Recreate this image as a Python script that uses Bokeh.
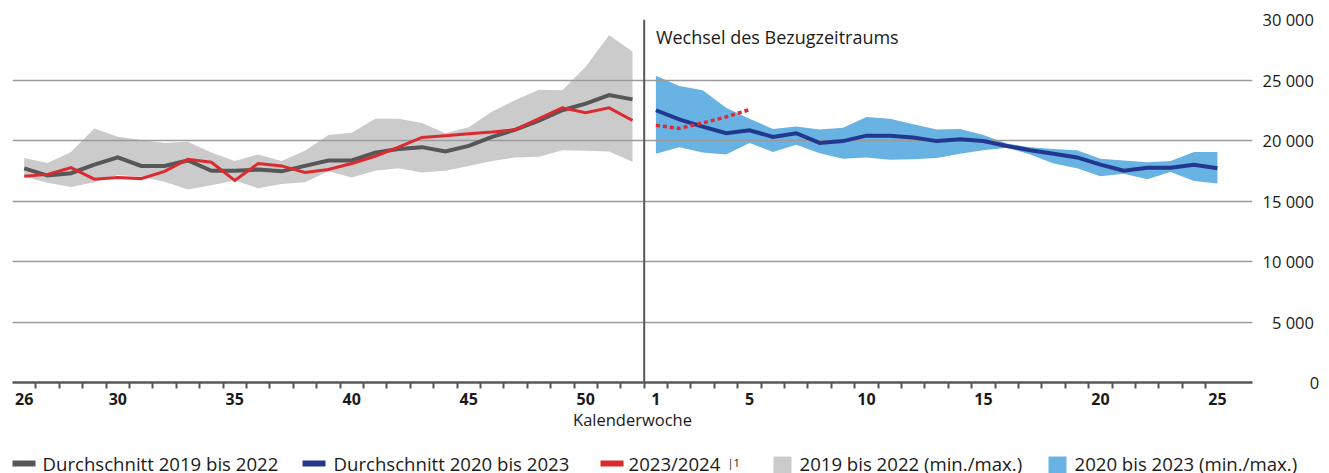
from bokeh.plotting import figure
from bokeh.models import Range1d, FixedTicker, Span, Label, ColumnDataSource
from bokeh.layouts import column
from bokeh.core.properties import value
from bokeh.embed import file_html
from bokeh.resources import INLINE

# ---------------- data ----------------
weeks_prev = list(range(26, 53))   # KW 26..52 (2023)
weeks_next = list(range(1, 26))    # KW 1..25 (2024)

avg_2019_2022 = [17700, 17100, 17300, 18000, 18600, 17900, 17900, 18350, 17500, 17500,
                 17600, 17450, 17900, 18350, 18350, 19000, 19300, 19450, 19100, 19550,
                 20300, 20900, 21650, 22500, 23050, 23750, 23400]
min_2019_2022 = [17000, 16500, 16150, 16550, 17150, 17000, 16600, 15950, 16300, 16700,
                 16050, 16400, 16550, 17450, 16950, 17500, 17700, 17350, 17500, 17900,
                 18300, 18600, 18650, 19200, 19150, 19100, 18250]
max_2019_2022 = [18550, 18150, 19050, 21000, 20300, 20050, 19800, 19900, 19000, 18300,
                 18850, 18300, 19150, 20450, 20650, 21800, 21800, 21450, 20600, 21100,
                 22400, 23350, 24200, 24150, 26100, 28700, 27350]
val_2023 = [17050, 17200, 17750, 16800, 16950, 16850, 17450, 18450, 18200, 16700,
            18100, 17900, 17350, 17600, 18100, 18700, 19450, 20250, 20400, 20550,
            20700, 20900, 21800, 22700, 22300, 22700, 21650]

avg_2020_2023 = [22500, 21750, 21150, 20600, 20850, 20300, 20600, 19800, 19950, 20400,
                 20400, 20250, 19950, 20100, 19950, 19550, 19200, 18900, 18600, 18000,
                 17500, 17750, 17750, 18000, 17700]
min_2020_2023 = [18900, 19450, 19000, 18850, 19800, 19050, 19650, 18950, 18500, 18600,
                 18400, 18450, 18550, 18900, 19200, 19400, 18850, 18100, 17700, 17050,
                 17250, 16800, 17400, 16650, 16450]
max_2020_2023 = [25350, 24500, 24150, 22700, 21800, 20950, 21150, 20900, 21050, 21950,
                 21800, 21350, 20900, 20950, 20450, 19750, 19450, 19300, 19200, 18500,
                 18350, 18200, 18300, 19050, 19050]
val_2024 = [21250, 21000, 21450, 21950, 22550]   # KW 1..5 (dotted)

x_tick_weeks = [26, 30, 35, 40, 45, 50, 1, 5, 10, 15, 20, 25]
y_ticks = [0, 5000, 10000, 15000, 20000, 25000, 30000]
y_tick_labels = ["0", "5 000", "10 000", "15 000", "20 000", "25 000", "30 000"]

legend_labels = ["Durchschnitt 2019 bis 2022", "Durchschnitt 2020 bis 2023", "2023/2024",
                 "2019 bis 2022 (min./max.)", "2020 bis 2023 (min./max.)"]

# ---------------- styles ----------------
FONT = "Open Sans"
C_GREY = "#575757"
C_BLUE = "#22388f"
C_RED = "#dc2b30"
C_GREYBAND = "#cbcbcb"
C_BLUEBAND = "#68b2e4"
C_TEXT = "#1a1a1a"

# positions along the week axis
all_weeks = [("p", w) for w in weeks_prev] + [("n", w) for w in weeks_next]
x_prev = [all_weeks.index(("p", w)) for w in weeks_prev]
x_next = [all_weeks.index(("n", w)) for w in weeks_next]
x_2024 = x_next[:len(val_2024)]
n_slots = len(all_weeks)

def tick_pos(w):
    key = ("p", w) if w >= 26 else ("n", w)
    return all_weeks.index(key)

W = 1329
p = figure(width=W, height=440, output_backend="svg", toolbar_location=None,
           x_range=Range1d(-0.5, n_slots + 0.5), y_range=Range1d(0, 30000),
           y_axis_location="right", min_border_left=12, min_border_right=77,
           min_border_top=19, min_border_bottom=58)
p.frame_align = False
p.outline_line_color = None
p.background_fill_color = "white"
p.xgrid.visible = False
p.ygrid.ticker = FixedTicker(ticks=y_ticks)
p.ygrid.grid_line_color = "#9a9a9a"
p.ygrid.grid_line_width = 1.3

# bands (below grid)
p.varea(x=x_prev, y1=min_2019_2022, y2=max_2019_2022, fill_color=C_GREYBAND, level="image")
p.varea(x=x_next, y1=min_2020_2023, y2=max_2020_2023, fill_color=C_BLUEBAND, level="image")

# lines
p.line(x_prev, avg_2019_2022, line_color=C_GREY, line_width=4, line_join="miter")
p.line(x_prev, val_2023, line_color=C_RED, line_width=3, line_join="miter")
p.line(x_next, avg_2020_2023, line_color=C_BLUE, line_width=4, line_join="miter")
p.line(x_2024, val_2024, line_color=C_RED, line_width=3.5, line_dash="4 3")

# separator
p.add_layout(Span(location=len(weeks_prev) - 0.5, dimension="height",
                  line_color=C_GREY, line_width=2))
p.add_layout(Label(x=x_next[0], y=28550, text="Wechsel des Bezugzeitraums",
                   text_font=FONT, text_font_size="18px", text_color=C_TEXT,
                   text_baseline="alphabetic", text_align="left"))

# x axis
xa = p.xaxis[0]
xa.ticker = FixedTicker(ticks=[tick_pos(w) for w in x_tick_weeks],
                        minor_ticks=[i + 0.5 for i in range(n_slots - 1)])
xa.major_label_overrides = {tick_pos(w): str(w) for w in x_tick_weeks}
xa.major_tick_out = 0
xa.major_tick_in = 0
xa.minor_tick_out = 6
xa.minor_tick_in = 0
xa.minor_tick_line_color = C_GREY
xa.minor_tick_line_width = 2
xa.axis_line_color = C_GREY
xa.axis_line_width = 2.5
xa.major_label_standoff = 4
xa.major_label_text_font = FONT
xa.major_label_text_font_size = "16px"
xa.major_label_text_font_style = "bold"
xa.major_label_text_color = C_TEXT
xa.axis_label = "Kalenderwoche"
xa.axis_label_text_font = FONT
xa.axis_label_text_font_size = "16.5px"
xa.axis_label_text_font_style = "normal"
xa.axis_label_text_color = C_TEXT
xa.axis_label_standoff = 0

# y axis (right, labels right-aligned via figure spaces)
ya = p.yaxis[0]
ya.ticker = FixedTicker(ticks=y_ticks)
maxlen = max(len(s) for s in y_tick_labels)
def pad(s):
    extra = maxlen - len(s)
    return "\u2007" * extra + s
ya.major_label_overrides = {t: pad(s) for t, s in zip(y_ticks, y_tick_labels)}
ya.axis_line_color = None
ya.major_tick_line_color = None
ya.minor_tick_line_color = None
ya.major_label_standoff = 4
ya.major_label_text_font = FONT
ya.major_label_text_font_size = "16.5px"
ya.major_label_text_color = C_TEXT

# ---------------- legend figure ----------------
leg = figure(width=W, height=33, output_backend="svg", toolbar_location=None,
             x_range=Range1d(0, W), y_range=Range1d(0, 33),
             min_border=0, min_border_left=0, min_border_right=0,
             min_border_top=0, min_border_bottom=0)
leg.frame_align = False
leg.axis.visible = False
leg.grid.visible = False
leg.outline_line_color = None

line_keys_x = [12, 302, 600]
line_cols = [C_GREY, C_BLUE, C_RED]
leg.quad(left=line_keys_x, right=[v + 23 for v in line_keys_x], bottom=7, top=13,
         fill_color=line_cols, line_color=None)
box_keys_x = [773, 1048]
box_cols = [C_GREYBAND, C_BLUEBAND]
leg.quad(left=box_keys_x, right=[v + 18 for v in box_keys_x], bottom=-1, top=17,
         fill_color=box_cols, line_color=None)
src = ColumnDataSource(dict(x=[42, 333, 628, 799, 1074], y=[10] * 5, t=legend_labels))
leg.text(x="x", y="y", text="t", source=src, text_font=value(FONT), text_font_size="18.6px",
         text_baseline="middle", text_color=C_TEXT)
leg.text(x=[727], y=[19], text=["|1"], text_font=value(FONT), text_font_size="11px",
         text_baseline="top", text_color=C_TEXT)

layout = column(p, leg, spacing=0)
html = file_html(layout, INLINE)
html = html.replace("<head>", "<head><style>html,body{overflow:hidden;}</style>", 1)
open("out.html", "w").write(html)
